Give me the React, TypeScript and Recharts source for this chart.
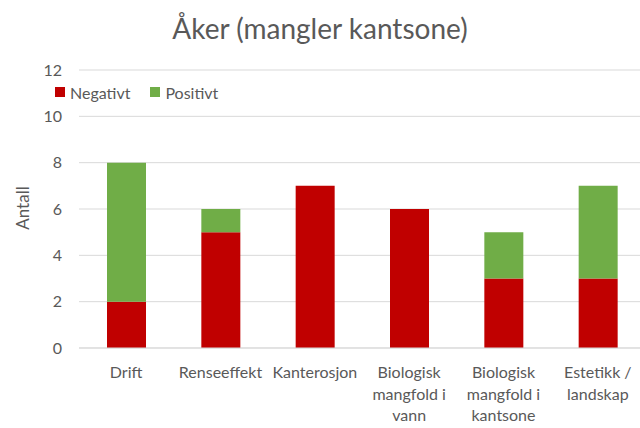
import { BarChart, Bar, XAxis, YAxis, CartesianGrid } from "recharts"

const categories = ["Drift", "Renseeffekt", "Kanterosjon", "Biologisk mangfold i vann", "Biologisk mangfold i kantsone", "Estetikk / landskap"]
const negativt = [2, 5, 7, 6, 3, 3]
const positivt = [6, 1, 0, 0, 2, 4]
const yTicks = [0, 2, 4, 6, 8, 10, 12]

const RED = "#C00000"
const GREEN = "#70AD47"
const TEXT = "#595959"
const FONT = "Lato, 'Open Sans', sans-serif"

const data = categories.map((name, i) => ({ name, negativt: negativt[i], positivt: positivt[i] }))

// greedy word wrap, roughly like Excel does within a category slot
function wrap(label: string, maxChars = 10) {
  const lines: string[] = []
  let cur = ""
  for (const w of label.split(" ")) {
    const next = cur ? cur + " " + w : w
    if (next.length > maxChars && cur) {
      lines.push(cur)
      cur = w
    } else {
      cur = next
    }
  }
  if (cur) lines.push(cur)
  return lines
}

function CategoryTick({ x, y, payload }: any) {
  const lines = wrap(payload.value)
  return (
    <text x={x} y={y} textAnchor="middle" fill={TEXT} fontSize={16} fontFamily={FONT}>
      {lines.map((l, i) => (
        <tspan key={i} x={x} y={y + 22 + i * 21.5}>
          {l}
        </tspan>
      ))}
    </text>
  )
}

function LegendBox() {
  const item = (color: string, label: string) => (
    <span style={{ display: "inline-flex", alignItems: "center", marginRight: 20 }}>
      <span style={{ width: 10, height: 10, background: color, display: "inline-block", marginRight: 5 }} />
      <span>{label}</span>
    </span>
  )
  return (
    <div style={{ position: "absolute", top: 81, left: 55, fontFamily: FONT, fontSize: 16, color: TEXT, whiteSpace: "nowrap", zIndex: 2 }}>
      {item(RED, "Negativt")}
      {item(GREEN, "Positivt")}
    </div>
  )
}

export default function App() {
  return (
    <div style={{ position: "absolute", left: 0, top: 0, width: 640, height: 428, overflow: "hidden", background: "#fff" }}>
      <div
        style={{
          position: "absolute",
          top: 11,
          left: 0,
          width: 640,
          textAlign: "center",
          fontFamily: FONT,
          fontSize: 28,
          color: TEXT,
        }}
      >
        Åker (mangler kantsone)
      </div>
      <LegendBox />
      <BarChart width={648} height={428} data={data} margin={{ top: 70, right: 3, left: 0, bottom: 0 }}>
        <CartesianGrid vertical={false} stroke="#D9D9D9" />
        <XAxis
          dataKey="name"
          height={80}
          interval={0}
          axisLine={{ stroke: "#D9D9D9" }}
          tickLine={false}
          tick={<CategoryTick />}
        />
        <YAxis
          width={79}
          domain={[0, 12]}
          ticks={yTicks}
          axisLine={false}
          tickLine={false}
          tickMargin={11}
          tick={{ fill: TEXT, fontSize: 16, fontFamily: FONT }}
          label={{
            content: () => (
              <text x={29} y={208} transform="rotate(-90 29 208)" textAnchor="middle" fill={TEXT} fontSize={17} fontFamily={FONT}>
                Antall
              </text>
            ),
          }}
        />
        <Bar dataKey="negativt" name="Negativt" stackId="a" fill={RED} barSize={39} isAnimationActive={false} />
        <Bar dataKey="positivt" name="Positivt" stackId="a" fill={GREEN} barSize={39} isAnimationActive={false} />
      </BarChart>
    </div>
  )
}
